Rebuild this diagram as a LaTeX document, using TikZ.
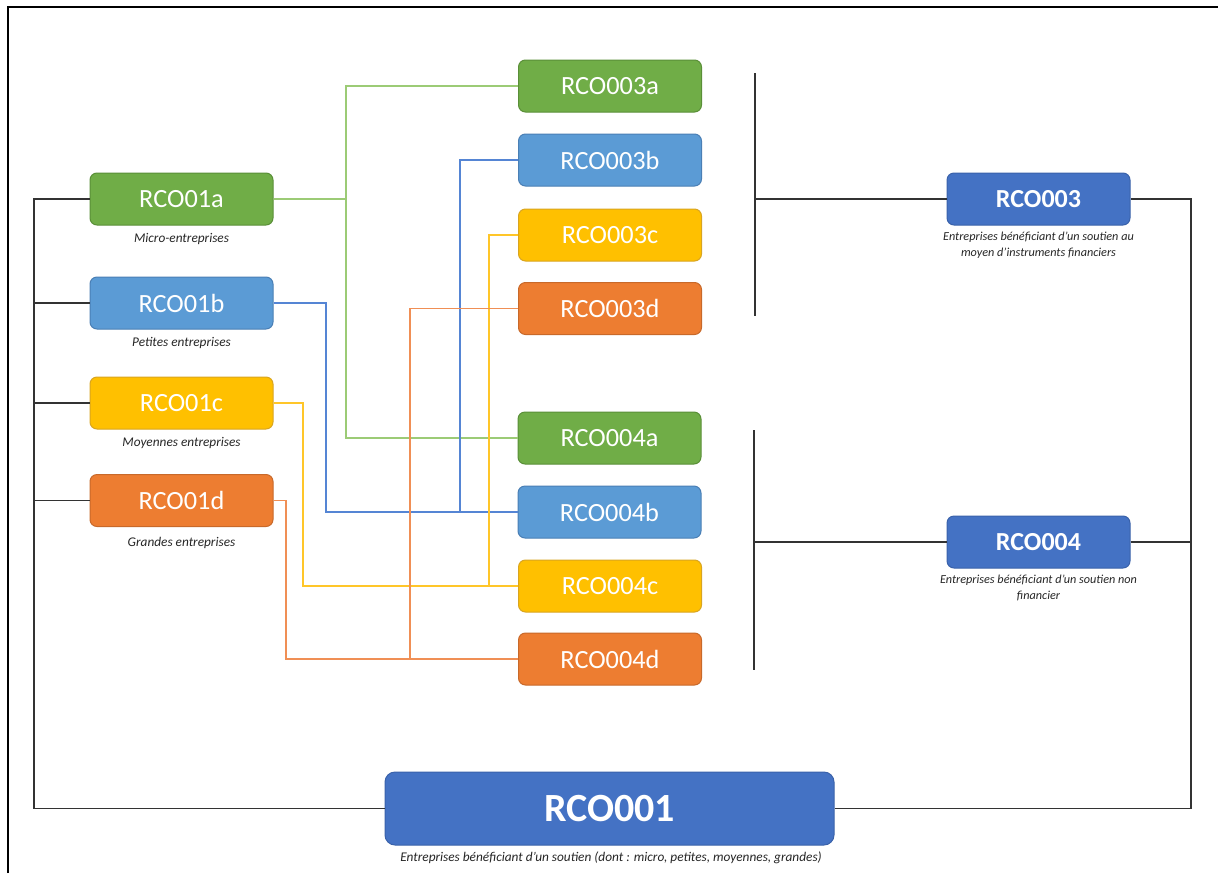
\documentclass[tikz,border=0pt]{standalone}
\usepackage{fontspec}
\setmainfont{Carlito}
\newfontfamily\calfont{Carlito}
\definecolor{cgreen}{HTML}{70AD47}
\definecolor{cgreenB}{HTML}{5A8F38}
\definecolor{cblue}{HTML}{5B9BD5}
\definecolor{cblueB}{HTML}{4A7FB5}
\definecolor{cyellow}{HTML}{FFC000}
\definecolor{cyellowB}{HTML}{D9A520}
\definecolor{corange}{HTML}{ED7D31}
\definecolor{corangeB}{HTML}{C8692A}
\definecolor{cdblue}{HTML}{4472C4}
\definecolor{cdblueB}{HTML}{3A62AA}
\definecolor{lgreen}{HTML}{9CCB76}
\definecolor{lblue}{HTML}{5585D4}
\definecolor{lyellow}{HTML}{FFC629}
\definecolor{lorange}{HTML}{F08F55}
\definecolor{lblack}{HTML}{333333}
\tikzset{
  box/.style={rounded corners=7pt, line width=1pt, minimum width=183pt, minimum height=52pt,
     inner sep=0pt, text=white, font=\calfont\fontsize{26.3}{30}\selectfont},
  gbox/.style={box, fill=cgreen, draw=cgreenB},
  bbox/.style={box, fill=cblue, draw=cblueB},
  ybox/.style={box, fill=cyellow, draw=cyellowB},
  obox/.style={box, fill=corange, draw=corangeB},
  dbox/.style={box, fill=cdblue, draw=cdblueB, font=\calfont\bfseries\fontsize{26}{30}\selectfont},
  lab/.style={font=\calfont\itshape\fontsize{13.3}{16}\selectfont, text=black!85, align=center, inner sep=0pt},
  rlab/.style={lab, font=\calfont\itshape\fontsize{12.2}{16}\selectfont},
  gl/.style={draw=lgreen, line width=1.3pt},
  bl/.style={draw=lblue, line width=1.3pt},
  yl/.style={draw=lyellow, line width=1.3pt},
  ol/.style={draw=lorange, line width=1.3pt},
  kl/.style={draw=lblack, line width=1.3pt},
}
\begin{document}
\begin{tikzpicture}[x=1pt,y=-1pt]
\useasboundingbox (0,0) rectangle (1218,873);
\fill[white] (0,0) rectangle (1218,873);
% frame
\draw[line width=2.5pt, black] (8,873) -- (8,7) -- (1218,7);

% left column
\node[gbox] (a01) at (181.5,199) {RCO01a};
\node[bbox] (b01) at (181.5,303) {RCO01b};
\node[ybox] (c01) at (181.5,403) {RCO01c};
\node[obox] (d01) at (181.5,500.5) {RCO01d};
\node[lab] (la01) at (181.5,239) {Micro-entreprises};
\node[lab] (lb01) at (181.5,343) {Petites entreprises};
\node[lab] (lc01) at (181.5,443) {Moyennes entreprises};
\node[lab] (ld01) at (181.5,543) {Grandes entreprises};

% middle column
\node[gbox] (a3) at (610,86) {RCO003a};
\node[bbox] (b3) at (610,160) {RCO003b};
\node[ybox] (c3) at (610,235) {RCO003c};
\node[obox] (d3) at (610,308.5) {RCO003d};
\node[gbox] (a4) at (609.5,438) {RCO004a};
\node[bbox] (b4) at (609.5,512) {RCO004b};
\node[ybox] (c4) at (610,586) {RCO004c};
\node[obox] (d4) at (610,659) {RCO004d};

% right column
\node[dbox] (r3) at (1038.5,199) {RCO003};
\node[rlab, anchor=north] (lr3) at (1038.5,232) {Entreprises bénéficiant d’un soutien au\\moyen d’instruments financiers};
\node[dbox] (r4) at (1038.5,542) {RCO004};
\node[rlab, anchor=north] (lr4) at (1038.5,575) {Entreprises bénéficiant d’un soutien non\\financier};

% bottom
\node[dbox, minimum width=449pt, minimum height=73pt, rounded corners=10pt,
      font=\calfont\bfseries\fontsize{40}{44}\selectfont] (r1) at (609.5,808.5) {RCO001};
\node[lab] (lr1) at (611,858) {Entreprises bénéficiant d’un soutien (dont : micro, petites, moyennes, grandes)};

% coordinates
\coordinate (lbus) at (34,0);
\coordinate (rbus) at (1191,0);
\coordinate (gx) at (346,0);
\coordinate (bxa) at (326,0);
\coordinate (bxb) at (460,0);
\coordinate (yxa) at (303,0);
\coordinate (yxb) at (489,0);
\coordinate (oxa) at (286,0);
\coordinate (oxb) at (410,0);
\coordinate (br3t) at (755,73);
\coordinate (br3b) at (755,316);
\coordinate (br4t) at (754,430);
\coordinate (br4b) at (754,670);

% black connectors
\draw[kl] (a01.west) -| (r1.west -| lbus) -- (r1.west);
\draw[kl] (b01.west) -- (b01.west -| lbus);
\draw[kl] (c01.west) -- (c01.west -| lbus);
\draw[kl] (d01.west) -- (d01.west -| lbus);
\draw[kl] (r1.east) -| (r3.east -| rbus) -- (r3.east);
\draw[kl] (r4.east) -- (r4.east -| rbus);
\draw[kl] (br3t) -- (br3b);
\draw[kl] (br3t |- r3.west) -- (r3.west);
\draw[kl] (br4t) -- (br4b);
\draw[kl] (br4t |- r4.west) -- (r4.west);

% coloured connectors
\draw[gl] (a01.east) -- (a01.east -| gx);
\draw[gl] (a3.west) -| (a4.west -| gx) -- (a4.west);
\draw[bl] (b01.east) -| (b4.west -| bxa) -- (b4.west);
\draw[bl] (b3.west) -| (b4.west -| bxb);
\draw[yl] (c01.east) -| (c4.west -| yxa) -- (c4.west);
\draw[yl] (c3.west) -| (c4.west -| yxb);
\draw[ol] (d01.east) -| (d4.west -| oxa) -- (d4.west);
\draw[ol] (d3.west) -| (d4.west -| oxb);
\end{tikzpicture}
\end{document}
